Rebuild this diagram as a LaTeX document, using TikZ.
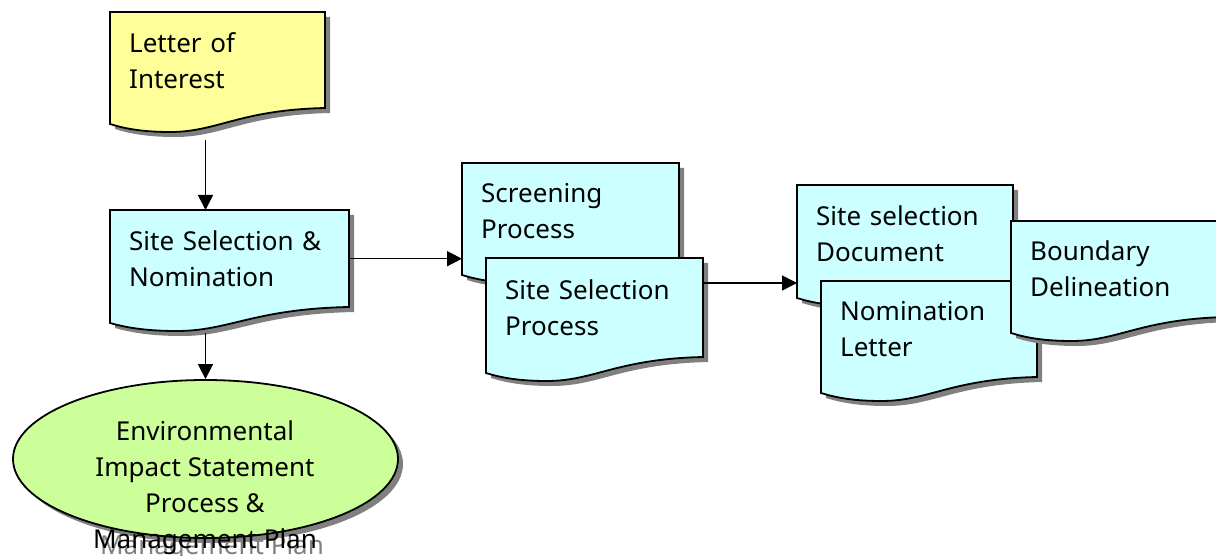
\documentclass[tikz,border=0pt]{standalone}
\usepackage{fontspec}
\setmainfont{Noto Sans}
\usetikzlibrary{arrows.meta,shapes.geometric,calc}
\definecolor{docyellow}{RGB}{255,255,153}
\definecolor{doccyan}{RGB}{204,255,255}
\definecolor{eisgreen}{RGB}{204,255,153}
\definecolor{shadowgray}{RGB}{128,128,128}
\tikzset{doctext/.style={inner sep=0pt, align=left, font=\fontsize{26}{36}\selectfont},
         flow/.style={-{Triangle[length=15pt,width=15pt]}, line width=1.6pt},
         outline/.style={draw, line width=1.8pt}}
\newcommand{\docpath}[4]{(#1,#2) -- ({#1+#3},#2) -- ({#1+#3},{#2+#4})
  .. controls ({#1+0.6*#3},{#2+#4+2}) and ({#1+0.5*#3},{#2+#4+24}) .. ({#1+0.28*#3},{#2+#4+24})
  .. controls ({#1+0.14*#3},{#2+#4+24}) and ({#1+0.06*#3},{#2+#4+20}) .. (#1,{#2+#4+16}) -- cycle}
\newcommand{\docbox}[7]{
  \fill[shadowgray, shift={(5,5)}] \docpath{#2}{#3}{#4}{#5};
  \path[outline, fill=#6] \docpath{#2}{#3}{#4}{#5};
  \node[doctext, anchor=north west, minimum width=#4pt, minimum height=#5pt,
        text width={(#4-38)*1pt}] (#1) at (#2,#3) {#7};
}

\begin{document}
\begin{tikzpicture}[x=1pt,y=-1pt]
  \useasboundingbox (0,0) rectangle (1216,556);
  \docbox{letter}{110}{12}{215}{96}{docyellow}{Letter of\\Interest}
  \docbox{site}{110}{210}{239}{97}{doccyan}{Site Selection \&\\Nomination}
  \docbox{screen}{462}{163}{217}{96}{doccyan}{Screening\\Process}
  \docbox{select}{486}{258}{217}{99}{doccyan}{Site Selection\\Process}
  \docbox{doc}{797}{185}{216}{97}{doccyan}{Site selection\\Document}
  \docbox{nomletter}{821}{281}{216}{96}{doccyan}{Nomination\\Letter}
  \docbox{boundary}{1011}{221}{216}{96}{doccyan}{Boundary\\Delineation}

  \fill[shadowgray] (210.5,464) ellipse [x radius=192.5, y radius=79];
  \node[doctext, align=center, text=shadowgray] at (212,494)
    {Environmental\\Impact Statement\\Process \&\\Management Plan};
  \node[ellipse, outline, fill=eisgreen, inner sep=0pt, minimum width=385pt, minimum height=158pt]
    (eis) at (205.5,459) {};
  \node[doctext, align=center] (eistext) at (205,488)
    {Environmental\\Impact Statement\\Process \&\\Management Plan};

  \coordinate (letterout) at ($(letter.south -| eis.north)+(0,32)$);
  \coordinate (siteout) at ($(site.south -| eis.north)+(0,26)$);
  \coordinate (selectout) at ($(select.north east)+(0,25)$);
  \draw[flow] (letterout) -- (site.north -| eis.north);
  \draw[flow] (siteout) -- (eis.north);
  \draw[flow] (site.east) -- (site.east -| screen.west);
  \draw[flow] (selectout) -- (selectout -| doc.west);
\end{tikzpicture}
\end{document}
